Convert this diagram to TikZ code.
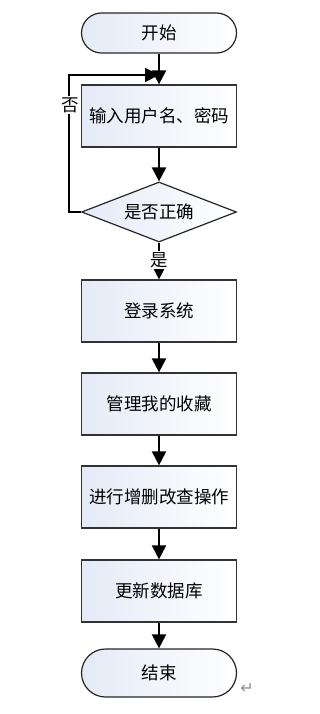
\documentclass[tikz,border=0pt]{standalone}
\usepackage{fontspec}
\newfontfamily\cjk{Noto Sans CJK SC}
\newfontfamily\sym{DejaVu Sans}
\usetikzlibrary{shapes.geometric, arrows.meta, positioning}
\definecolor{paleblue}{RGB}{228,234,247}

\begin{document}
\begin{tikzpicture}[x=1pt, y=-1pt,
    process/.style={rectangle, draw=black!80, line width=1.2pt, left color=paleblue, right color=white, minimum width=155pt, minimum height=62pt, font=\cjk\fontsize{17.5}{20}\selectfont},
    terminal/.style={rectangle, rounded corners=20pt, draw=black!85, line width=1.2pt, left color=paleblue, right color=white, minimum width=155pt, minimum height=40pt, font=\cjk\fontsize{17.5}{20}\selectfont},
    decision/.style={diamond, aspect=2.6, inner sep=0pt, draw=black!85, line width=1.2pt, left color=paleblue, right color=white, minimum width=155pt, minimum height=60pt, font=\cjk\fontsize{17.5}{20}\selectfont},
    flow/.style={line width=2pt, -{Triangle[length=14pt, width=14pt]}},
    answer/.style={fill=white, inner sep=1pt, font=\cjk\fontsize{17.5}{20}\selectfont}
]
\useasboundingbox (0,0) rectangle (320,714);
\node[terminal] (start) at (159,33) {开始};
\node[process] (input) at (159,116) {输入用户名、密码};
\node[decision] (check) at (159,212) {是否正确};
\node[process] (login) at (159,311) {登录系统};
\node[process] (manage) at (159,404) {管理我的收藏};
\node[process] (crud) at (159,497) {进行增删改查操作};
\node[process] (update) at (159,591) {更新数据库};
\node[terminal, minimum height=48pt, rounded corners=24pt] (stop) at (159,673) {结束};
\coordinate (loopin) at (159,75);
% main flow
\draw[flow] (start) -- (input);
\draw[flow] (input) -- (check);
\draw[flow] (check) -- (login);
\draw[flow] (login) -- (manage);
\draw[flow] (manage) -- (crud);
\draw[flow] (crud) -- (update);
\draw[flow] (update) -- (stop);
% back to input
\draw[flow] (check.west) -- ++(-12,0) |- (loopin);
\node[answer] (no) at (70,105) {否};
\node[answer] (yes) at (159,260) {是};
\node[text=black!45, font=\sym\fontsize{16}{18}\selectfont] (mark) at (247,688) {↵};
\end{tikzpicture}
\end{document}
